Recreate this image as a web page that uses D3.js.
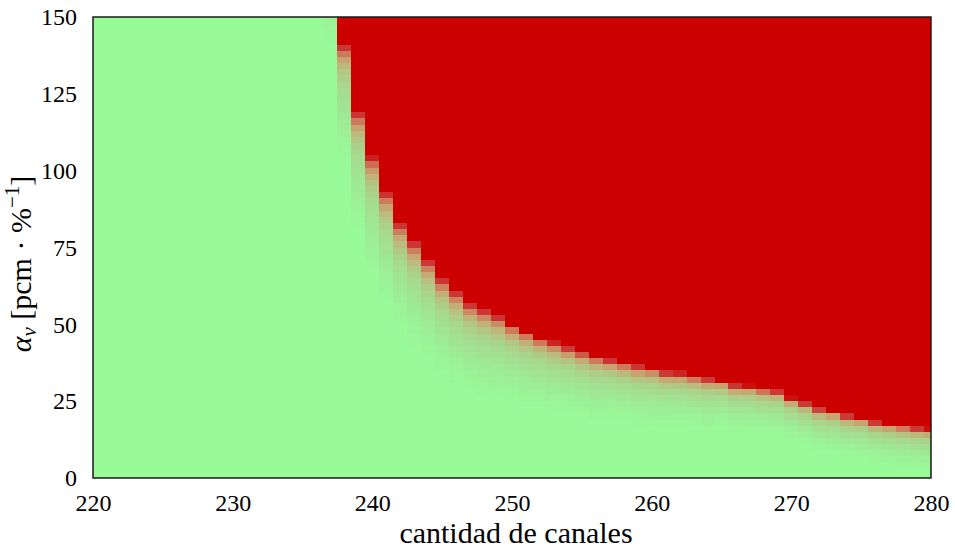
<!DOCTYPE html>
<html>
<head>
<meta charset="utf-8">
<script src="https://cdn.jsdelivr.net/npm/d3@7"></script>
<style>
  body { margin: 0; background: #ffffff; }
  svg { display: block; }
</style>
</head>
<body>
<svg id="chart" width="955" height="550"></svg>
<script>
// Channel-count columns (one per channel) and α_v rows (centred every 2 units)
const channels = d3.range(220, 281);
const alphaRows = d3.range(0, 151, 2);
const xTicks = [220, 230, 240, 250, 260, 270, 280];
const yTicks = [0, 25, 50, 75, 100, 125, 150];

// First channel count whose column reaches the unstable region
const onsetFirstChannel = 237;
// α_v at which the solid unstable (red) region starts, channels 237 … 280
const redOnset = [
  180, 141, 119, 104.6, 92.9, 82.9, 76.9, 70.9, 64.8, 60.8,
  56.8, 54.8, 52.7, 50.0, 48.0, 45.8, 44.4, 42.6, 41.1, 39.7,
  38.5, 37.5, 36.5, 36.0, 34.5, 34.3, 33.4, 32.5, 32.0, 30.4,
  30.1, 29.1, 28.4, 26.1, 24.4, 22.5, 21.8, 20.4, 19.8, 18.4,
  17.8, 17.1, 16.4, 16.1
];
// Depth (α_v units) of the fading band under that onset, channels 237 … 280
const fadeDepth = [
  10, 10, 10, 10, 9.5, 9, 9, 8.5, 8, 8,
  7.5, 7.5, 7, 6.5, 6.5, 6, 6, 5.5, 5.5, 5.5,
  5, 5, 5, 5, 4.5, 4.5, 4.5, 4.5, 4, 4,
  3.8, 3.8, 3.6, 3.5, 3.5, 3.5, 3.5, 3.5, 3.5, 3.5,
  3.5, 3.5, 3.5, 3.5
];

// Palette over normalised depth below the onset (0 = unstable, large = stable)
const rampDepth = [0, 0.1, 0.3, 0.5, 0.7, 0.9, 1.2, 1.6, 2.2, 3.0, 4.0];
const rampColor = ['#cd0000', '#cc3535', '#cc7a5a', '#c8a36f', '#bdb97b',
                   '#b3c684', '#aad38c', '#a4dd91', '#9fe795', '#9bf297', '#98fb98'];

const W = 955, H = 550;
const plot = { left: 93, right: 931, top: 17, bottom: 478 };

const svg = d3.select('#chart');
svg.append('rect').attr('width', W).attr('height', H).attr('fill', '#ffffff');

const x = d3.scaleLinear().domain([220, 280]).range([plot.left, plot.right]);
const y = d3.scaleLinear().domain([0, 150]).range([plot.bottom, plot.top]);
const colour = d3.scaleLinear().domain(rampDepth).range(rampColor).clamp(true);

// Build the cell grid
const cells = [];
channels.forEach(c => {
  const i = c - onsetFirstChannel;
  const onset = i >= 0 ? redOnset[i] : null;
  const depth = i >= 0 ? fadeDepth[i] : null;
  alphaRows.forEach(v => {
    const u = onset === null ? Infinity : (onset - v) / depth;
    cells.push({ c, v, u });
  });
});

const grid = svg.append('g').attr('shape-rendering', 'crispEdges');
grid.selectAll('rect')
  .data(cells)
  .join('rect')
  .attr('x', d => x(Math.max(220, d.c - 0.5)))
  .attr('width', d => x(Math.min(280, d.c + 0.5)) - x(Math.max(220, d.c - 0.5)))
  .attr('y', d => y(Math.min(150, d.v + 1)))
  .attr('height', d => y(Math.max(0, d.v - 1)) - y(Math.min(150, d.v + 1)))
  .attr('fill', d => d.u === Infinity ? rampColor[rampColor.length - 1] : colour(d.u));

// Frame
svg.append('rect')
  .attr('x', plot.left).attr('y', plot.top)
  .attr('width', plot.right - plot.left).attr('height', plot.bottom - plot.top)
  .attr('fill', 'none').attr('stroke', '#1a1a1a').attr('stroke-width', 1.5);

const font = '"Liberation Serif", "Times New Roman", serif';

// Axes (labels only)
const xAxis = svg.append('g')
  .attr('transform', `translate(0,${plot.bottom})`)
  .call(d3.axisBottom(x).tickValues(xTicks).tickSize(0).tickPadding(16).tickFormat(d3.format('d')));
const yAxis = svg.append('g')
  .attr('transform', `translate(${plot.left},0)`)
  .call(d3.axisLeft(y).tickValues(yTicks).tickSize(0).tickPadding(16).tickFormat(d3.format('d')));
[xAxis, yAxis].forEach(g => {
  g.select('.domain').remove();
  g.selectAll('text').attr('font-family', font).attr('font-size', 24).attr('fill', '#000');
});

// Axis titles
svg.append('text')
  .attr('x', (plot.left + plot.right) / 2 + 4)
  .attr('y', 543)
  .attr('text-anchor', 'middle')
  .attr('font-family', font).attr('font-size', 30).attr('fill', '#000')
  .text('cantidad de canales');

const yt = svg.append('text')
  .attr('transform', 'translate(31,264) rotate(-90)')
  .attr('text-anchor', 'middle')
  .attr('font-family', font).attr('font-size', 30).attr('fill', '#000');
yt.append('tspan').attr('font-style', 'italic').text('α');
yt.append('tspan').attr('font-style', 'italic').attr('font-size', 21).attr('dy', 5).text('v');
yt.append('tspan').attr('dy', -5).text(' [pcm · %');
yt.append('tspan').attr('font-size', 21).attr('dy', -12).text('−1');
yt.append('tspan').attr('dy', 12).text(']');
</script>
</body>
</html>
